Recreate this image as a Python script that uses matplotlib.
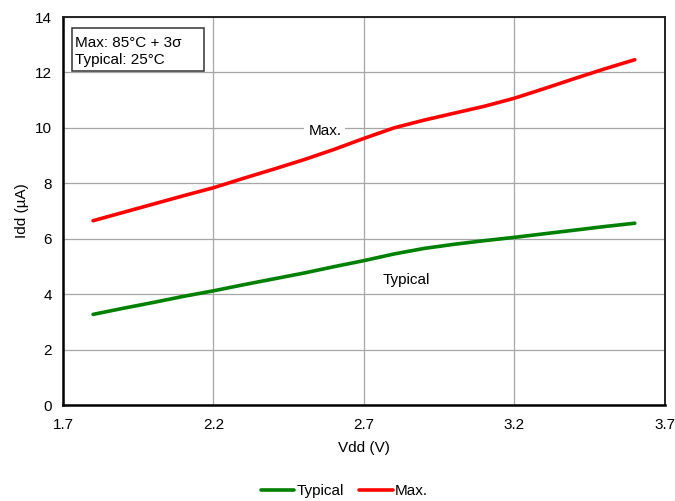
import matplotlib
matplotlib.use("Agg")
import matplotlib.pyplot as plt
from matplotlib.patches import Rectangle

plt.rcParams['font.family'] = ['Liberation Sans', 'DejaVu Sans']

vdd = [1.8, 1.9, 2.0, 2.1, 2.2, 2.3, 2.4, 2.5, 2.6, 2.7, 2.8, 2.9, 3.0, 3.1, 3.2, 3.3, 3.4, 3.5, 3.6]
idd_typical = [3.27, 3.49, 3.70, 3.92, 4.12, 4.34, 4.55, 4.76, 4.99, 5.21, 5.45, 5.65, 5.80, 5.93, 6.05, 6.18, 6.31, 6.44, 6.56]
idd_max = [6.65, 6.95, 7.25, 7.55, 7.84, 8.18, 8.51, 8.85, 9.22, 9.62, 10.00, 10.28, 10.53, 10.78, 11.07, 11.42, 11.78, 12.13, 12.46]

x_ticks = [1.7, 2.2, 2.7, 3.2, 3.7]
y_ticks = [0, 2, 4, 6, 8, 10, 12, 14]
series_names = ["Typical", "Max."]
series_colors = ["#008000", "#FF0000"]

fig = plt.figure(figsize=(6.75, 5.01), dpi=100)
ax = fig.add_axes([0.0933, 0.1916, 0.8917, 0.7744])

ax.plot(vdd, idd_typical, color=series_colors[0], lw=2.6, label=series_names[0],
        solid_capstyle='round', zorder=3)
ax.plot(vdd, idd_max, color=series_colors[1], lw=2.6, label=series_names[1],
        solid_capstyle='round', zorder=3)

ax.set_xlim(1.7, 3.7)
ax.set_ylim(0, 14)
ax.set_xticks(x_ticks)
ax.set_xticklabels([f"{t:.1f}" for t in x_ticks])
ax.set_yticks(y_ticks)
ax.grid(True, color="#A6A6A6", lw=0.9, zorder=0)
ax.tick_params(length=0, labelsize=11, pad=8, colors="#000000")
ax.tick_params(axis='x', pad=9)

for side in ['left', 'bottom']:
    ax.spines[side].set_linewidth(1.8)
    ax.spines[side].set_color("#000000")
for side in ['top', 'right']:
    ax.spines[side].set_linewidth(1.4)
    ax.spines[side].set_color("#222222")

ax.set_xlabel("Vdd (V)", fontsize=11, labelpad=7)
ax.set_ylabel("Idd (µA)", fontsize=11, labelpad=4)

# annotation box
bx0, by0 = (72 - 62.5) / 602.0, (405 - 70.5) / 388.0
bw, bh = (204 - 72) / 602.0, (70.5 - 28) / 388.0
ax.add_patch(Rectangle((bx0, by0), bw, bh, transform=ax.transAxes, fc='white',
                       ec='#333333', lw=1.1, zorder=5))
ax.text(bx0 + 3 / 602.0, by0 + bh / 2 - 2 / 388.0, "Max: 85°C + 3σ\nTypical: 25°C",
        transform=ax.transAxes, fontsize=11, va='center', ha='left', linespacing=1.25, zorder=6)

ax.text(2.57, 9.9, "Max.", fontsize=11, ha='center', va='center',
        bbox=dict(boxstyle='square,pad=0.25', fc='white', ec='none'), zorder=4)
ax.text(2.84, 4.5, "Typical", fontsize=11, ha='center', va='center', zorder=4)

fig.legend(loc='lower center', bbox_to_anchor=(0.51, -0.022), ncol=2, frameon=False,
           fontsize=11, handlelength=2.2, handletextpad=0.15, columnspacing=1.0)

fig.savefig("out.png", dpi=100)
